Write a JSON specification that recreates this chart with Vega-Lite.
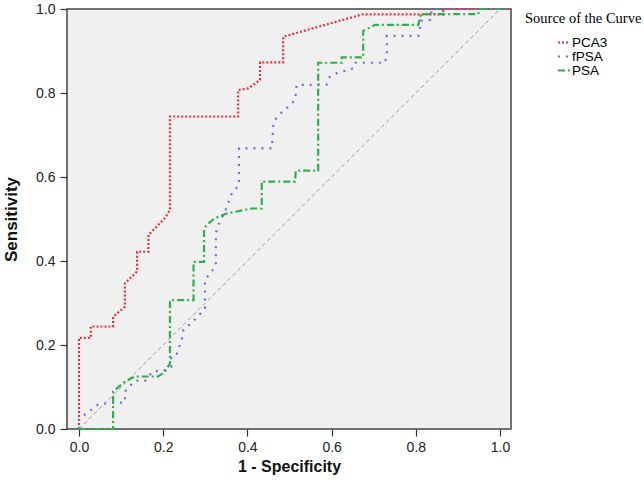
{
  "$schema": "https://vega.github.io/schema/vega-lite/v6.json",
  "width": 444,
  "height": 420,
  "autosize": "none",
  "padding": {"left": 67, "top": 9, "right": 133, "bottom": 59},
  "background": "white",
  "config": {
    "view": {"fill": "#f0f0f0", "stroke": "#444", "strokeWidth": 1.5},
    "axis": {
      "labelFont": "Liberation Sans", "labelFontSize": 14, "labelColor": "#222",
      "titleFont": "Liberation Sans", "titleFontSize": 16, "titleFontWeight": "bold", "titleColor": "#111",
      "tickColor": "#333", "tickSize": 7, "tickWidth": 1.2, "domain": false, "grid": false
    },
    "legend": {
      "titleFont": "Liberation Serif", "titleFontSize": 14.5, "titleFontWeight": "normal", "titleColor": "#000",
      "titlePadding": 9,
      "labelFont": "Liberation Sans", "labelFontSize": 13.5, "labelColor": "#000", "labelOffset": 1,
      "symbolOffset": 32, "symbolSize": 144, "symbolStrokeWidth": 2, "symbolType": "stroke",
      "rowPadding": 0
    }
  },
  "datasets": {
    "roc": [
      {"s": "PCA3", "i": 0, "x": 0, "y": 0},
      {"s": "PCA3", "i": 1, "x": 0, "y": 0.217},
      {"s": "PCA3", "i": 2, "x": 0.028, "y": 0.217},
      {"s": "PCA3", "i": 3, "x": 0.028, "y": 0.244},
      {"s": "PCA3", "i": 4, "x": 0.081, "y": 0.244},
      {"s": "PCA3", "i": 5, "x": 0.081, "y": 0.267},
      {"s": "PCA3", "i": 6, "x": 0.109, "y": 0.291},
      {"s": "PCA3", "i": 7, "x": 0.109, "y": 0.347},
      {"s": "PCA3", "i": 8, "x": 0.138, "y": 0.375},
      {"s": "PCA3", "i": 9, "x": 0.138, "y": 0.422},
      {"s": "PCA3", "i": 10, "x": 0.165, "y": 0.422},
      {"s": "PCA3", "i": 11, "x": 0.165, "y": 0.462},
      {"s": "PCA3", "i": 12, "x": 0.204, "y": 0.502},
      {"s": "PCA3", "i": 13, "x": 0.216, "y": 0.521},
      {"s": "PCA3", "i": 14, "x": 0.216, "y": 0.744},
      {"s": "PCA3", "i": 15, "x": 0.378, "y": 0.744},
      {"s": "PCA3", "i": 16, "x": 0.378, "y": 0.807},
      {"s": "PCA3", "i": 17, "x": 0.402, "y": 0.811},
      {"s": "PCA3", "i": 18, "x": 0.43, "y": 0.831},
      {"s": "PCA3", "i": 19, "x": 0.43, "y": 0.873},
      {"s": "PCA3", "i": 20, "x": 0.485, "y": 0.873},
      {"s": "PCA3", "i": 21, "x": 0.485, "y": 0.934},
      {"s": "PCA3", "i": 22, "x": 0.672, "y": 0.987},
      {"s": "PCA3", "i": 23, "x": 0.865, "y": 0.987},
      {"s": "PCA3", "i": 24, "x": 0.865, "y": 1.0},
      {"s": "PCA3", "i": 25, "x": 1.0, "y": 1.0},
      {"s": "fPSA", "i": 0, "x": 0, "y": 0},
      {"s": "fPSA", "i": 1, "x": 0, "y": 0.023},
      {"s": "fPSA", "i": 2, "x": 0.028, "y": 0.045},
      {"s": "fPSA", "i": 3, "x": 0.046, "y": 0.059},
      {"s": "fPSA", "i": 4, "x": 0.09, "y": 0.063},
      {"s": "fPSA", "i": 5, "x": 0.109, "y": 0.063},
      {"s": "fPSA", "i": 6, "x": 0.109, "y": 0.089},
      {"s": "fPSA", "i": 7, "x": 0.133, "y": 0.115},
      {"s": "fPSA", "i": 8, "x": 0.157, "y": 0.115},
      {"s": "fPSA", "i": 9, "x": 0.176, "y": 0.138},
      {"s": "fPSA", "i": 10, "x": 0.2, "y": 0.138},
      {"s": "fPSA", "i": 11, "x": 0.219, "y": 0.148},
      {"s": "fPSA", "i": 12, "x": 0.219, "y": 0.172},
      {"s": "fPSA", "i": 13, "x": 0.232, "y": 0.179},
      {"s": "fPSA", "i": 14, "x": 0.244, "y": 0.212},
      {"s": "fPSA", "i": 15, "x": 0.248, "y": 0.236},
      {"s": "fPSA", "i": 16, "x": 0.266, "y": 0.252},
      {"s": "fPSA", "i": 17, "x": 0.282, "y": 0.267},
      {"s": "fPSA", "i": 18, "x": 0.299, "y": 0.287},
      {"s": "fPSA", "i": 19, "x": 0.299, "y": 0.355},
      {"s": "fPSA", "i": 20, "x": 0.315, "y": 0.375},
      {"s": "fPSA", "i": 21, "x": 0.325, "y": 0.39},
      {"s": "fPSA", "i": 22, "x": 0.325, "y": 0.466},
      {"s": "fPSA", "i": 23, "x": 0.331, "y": 0.486},
      {"s": "fPSA", "i": 24, "x": 0.348, "y": 0.521},
      {"s": "fPSA", "i": 25, "x": 0.363, "y": 0.561},
      {"s": "fPSA", "i": 26, "x": 0.38, "y": 0.581},
      {"s": "fPSA", "i": 27, "x": 0.38, "y": 0.668},
      {"s": "fPSA", "i": 28, "x": 0.458, "y": 0.668},
      {"s": "fPSA", "i": 29, "x": 0.462, "y": 0.732},
      {"s": "fPSA", "i": 30, "x": 0.477, "y": 0.75},
      {"s": "fPSA", "i": 31, "x": 0.497, "y": 0.767},
      {"s": "fPSA", "i": 32, "x": 0.513, "y": 0.783},
      {"s": "fPSA", "i": 33, "x": 0.517, "y": 0.819},
      {"s": "fPSA", "i": 34, "x": 0.588, "y": 0.82},
      {"s": "fPSA", "i": 35, "x": 0.596, "y": 0.839},
      {"s": "fPSA", "i": 36, "x": 0.612, "y": 0.847},
      {"s": "fPSA", "i": 37, "x": 0.652, "y": 0.859},
      {"s": "fPSA", "i": 38, "x": 0.656, "y": 0.872},
      {"s": "fPSA", "i": 39, "x": 0.727, "y": 0.872},
      {"s": "fPSA", "i": 40, "x": 0.731, "y": 0.894},
      {"s": "fPSA", "i": 41, "x": 0.731, "y": 0.936},
      {"s": "fPSA", "i": 42, "x": 0.806, "y": 0.936},
      {"s": "fPSA", "i": 43, "x": 0.81, "y": 0.954},
      {"s": "fPSA", "i": 44, "x": 0.812, "y": 0.972},
      {"s": "fPSA", "i": 45, "x": 0.834, "y": 0.974},
      {"s": "fPSA", "i": 46, "x": 0.838, "y": 1.0},
      {"s": "fPSA", "i": 47, "x": 1.0, "y": 1.0},
      {"s": "PSA", "i": 0, "x": 0, "y": 0},
      {"s": "PSA", "i": 1, "x": 0.081, "y": 0},
      {"s": "PSA", "i": 2, "x": 0.081, "y": 0.089},
      {"s": "PSA", "i": 3, "x": 0.109, "y": 0.113},
      {"s": "PSA", "i": 4, "x": 0.133, "y": 0.125},
      {"s": "PSA", "i": 5, "x": 0.188, "y": 0.125},
      {"s": "PSA", "i": 6, "x": 0.204, "y": 0.136},
      {"s": "PSA", "i": 7, "x": 0.216, "y": 0.156},
      {"s": "PSA", "i": 8, "x": 0.216, "y": 0.307},
      {"s": "PSA", "i": 9, "x": 0.272, "y": 0.307},
      {"s": "PSA", "i": 10, "x": 0.272, "y": 0.398},
      {"s": "PSA", "i": 11, "x": 0.297, "y": 0.398},
      {"s": "PSA", "i": 12, "x": 0.297, "y": 0.474},
      {"s": "PSA", "i": 13, "x": 0.303, "y": 0.486},
      {"s": "PSA", "i": 14, "x": 0.323, "y": 0.502},
      {"s": "PSA", "i": 15, "x": 0.351, "y": 0.513},
      {"s": "PSA", "i": 16, "x": 0.41, "y": 0.525},
      {"s": "PSA", "i": 17, "x": 0.434, "y": 0.525},
      {"s": "PSA", "i": 18, "x": 0.434, "y": 0.589},
      {"s": "PSA", "i": 19, "x": 0.513, "y": 0.589},
      {"s": "PSA", "i": 20, "x": 0.515, "y": 0.615},
      {"s": "PSA", "i": 21, "x": 0.568, "y": 0.615},
      {"s": "PSA", "i": 22, "x": 0.568, "y": 0.872},
      {"s": "PSA", "i": 23, "x": 0.624, "y": 0.872},
      {"s": "PSA", "i": 24, "x": 0.624, "y": 0.885},
      {"s": "PSA", "i": 25, "x": 0.675, "y": 0.885},
      {"s": "PSA", "i": 26, "x": 0.675, "y": 0.948},
      {"s": "PSA", "i": 27, "x": 0.703, "y": 0.962},
      {"s": "PSA", "i": 28, "x": 0.806, "y": 0.962},
      {"s": "PSA", "i": 29, "x": 0.812, "y": 0.988},
      {"s": "PSA", "i": 30, "x": 0.948, "y": 0.988},
      {"s": "PSA", "i": 31, "x": 0.952, "y": 1.0},
      {"s": "PSA", "i": 32, "x": 1.0, "y": 1.0}
    ],
    "diag": [
      {"x": 0, "y": 0},
      {"x": 1, "y": 1}
    ]
  },
  "layer": [
    {
      "data": {"name": "diag"},
      "mark": {"type": "line", "color": "#9a9a9a", "strokeWidth": 1, "strokeDash": [4, 3]},
      "encoding": {
        "x": {"field": "x", "type": "quantitative", "scale": {"domain": [-0.0285, 1.026], "nice": false, "zero": false},
              "axis": {"values": [0, 0.2, 0.4, 0.6, 0.8, 1.0], "format": ".1f", "title": "1 - Specificity", "labelPadding": 4, "titlePadding": 4}},
        "y": {"field": "y", "type": "quantitative", "scale": {"domain": [0, 1], "nice": false},
              "axis": {"values": [0, 0.2, 0.4, 0.6, 0.8, 1.0], "format": ".1f", "title": "Sensitivity", "titleFontSize": 17, "labelPadding": 5, "titlePadding": 15}}
      }
    },
    {
      "data": {"name": "roc"},
      "mark": {"type": "line", "strokeWidth": 2.2, "interpolate": "linear"},
      "encoding": {
        "x": {"field": "x", "type": "quantitative"},
        "y": {"field": "y", "type": "quantitative"},
        "order": {"field": "i", "type": "quantitative"},
        "color": {
          "field": "s", "type": "nominal",
          "scale": {"domain": ["PCA3", "fPSA", "PSA"], "range": ["#e8333d", "#6b6bf2", "#2db24a"]},
          "legend": {"title": "Source of the Curve", "orient": "none", "legendX": 458, "legendY": 3}
        },
        "strokeDash": {
          "field": "s", "type": "nominal",
          "scale": {"domain": ["PCA3", "fPSA", "PSA"], "range": [[2, 2], [2, 6], [7, 3, 2, 3]]},
          "legend": {"title": "Source of the Curve", "orient": "none", "legendX": 458, "legendY": 3}
        }
      }
    }
  ]
}
